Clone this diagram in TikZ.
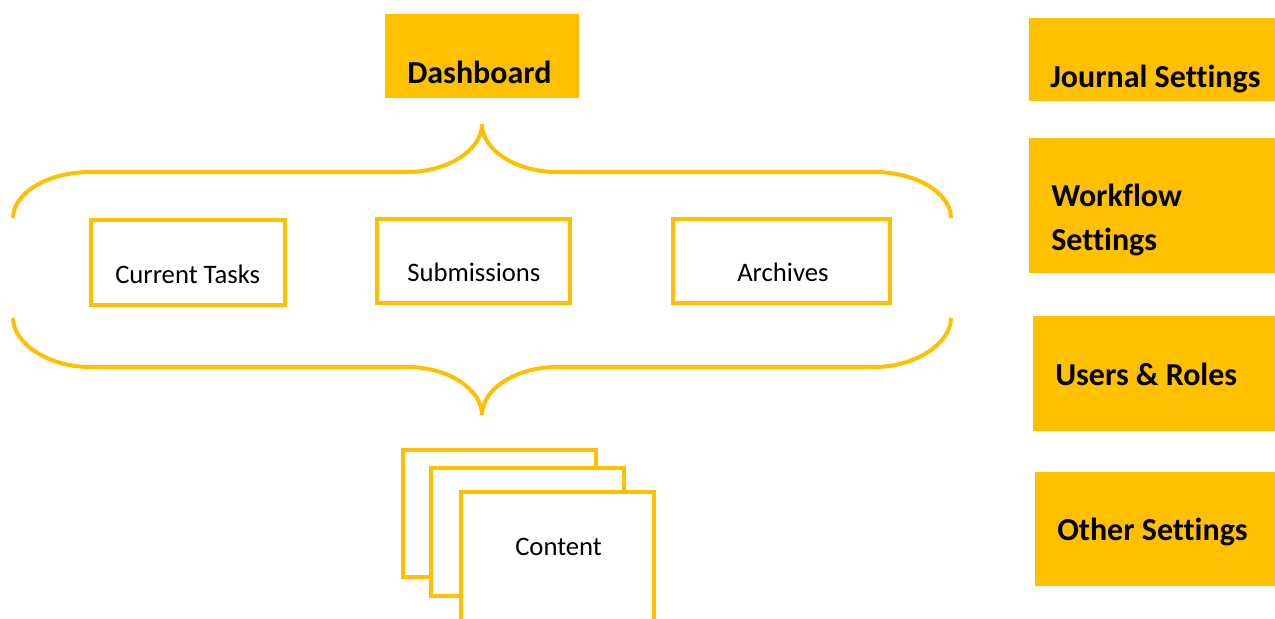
\documentclass[tikz,border=0pt]{standalone}
\usepackage{fontspec}
\setmainfont{Carlito}[Ligatures=NoCommon]
\definecolor{gold}{RGB}{255,192,0}
\tikzset{
  goldfill/.style={fill=gold, draw=none, inner sep=0pt},
  goldline/.style={draw=gold, line width=3pt, fill=white, inner sep=0pt},
  bigtxt/.style={font=\fontsize{24}{33}\selectfont\bfseries, inner sep=0pt, anchor=base west, align=left},
  smalltxt/.style={font=\fontsize{20}{24}\selectfont, inner sep=0pt, anchor=base west},
  brace/.style={draw=gold, line width=3pt}
}
\begin{document}
\begin{tikzpicture}[x=0.75pt, y=-0.75pt]
\useasboundingbox (0,0) rectangle (1275,618);
% filled boxes
\node[goldfill, minimum width=194*0.75pt, minimum height=84*0.75pt] (dash) at (482,56) {};
\node[bigtxt] (dasht) at (407,83) {Dashboard};
\node[goldfill, minimum width=246*0.75pt, minimum height=83*0.75pt] (journal) at (1152,59.5) {};
\node[bigtxt] (journalt) at (1050,87) {Journal Settings};
\node[goldfill, minimum width=246*0.75pt, minimum height=135*0.75pt] (workflow) at (1152,205.5) {};
\node[bigtxt] (workflowt) at (1051,250) {Workflow\\Settings};
\node[goldfill, minimum width=242*0.75pt, minimum height=115*0.75pt] (users) at (1154,373.5) {};
\node[bigtxt] (userst) at (1055,385) {Users \& Roles};
\node[goldfill, minimum width=240*0.75pt, minimum height=114*0.75pt] (other) at (1155,529) {};
\node[bigtxt] (othert) at (1057,540) {Other Settings};
% outlined boxes
\node[goldline, minimum width=194*0.75pt, minimum height=85*0.75pt] (tasks) at (188,262.5) {};
\node[smalltxt] (taskst) at (115,283) {Current Tasks};
\node[goldline, minimum width=193*0.75pt, minimum height=84*0.75pt] (subm) at (473.5,261) {};
\node[smalltxt] (submt) at (407,281) {Submissions};
\node[goldline, minimum width=217*0.75pt, minimum height=84*0.75pt] (arch) at (781.5,261) {};
\node[smalltxt] (archt) at (737,281) {Archives};
% content stack
\begin{scope}
\clip (0,0) rectangle (1275,618);
\node[goldline, minimum width=193*0.75pt, minimum height=127*0.75pt] (c1) at (499.5,513.5) {};
\node[goldline, minimum width=193*0.75pt, minimum height=128*0.75pt] (c2) at (527.5,532) {};
\node[goldline, minimum width=193*0.75pt, minimum height=160*0.75pt] (c3) at (557.5,572) {};
\end{scope}
\node[smalltxt] (contentt) at (515,555) {Content};
% braces
\path[brace] (13,218) .. controls (13,193) and (48,172) .. (90,172) -- (407,172)
  .. controls (448,172) and (482,150) .. (482,124)
  .. controls (482,150) and (516,172) .. (557,172) -- (874,172)
  .. controls (916,172) and (951,193) .. (951,218);
\path[brace] (13,318) .. controls (13,343) and (48,367) .. (90,367) -- (407,367)
  .. controls (448,367) and (482,389) .. (482,415)
  .. controls (482,389) and (516,367) .. (557,367) -- (874,367)
  .. controls (916,367) and (951,343) .. (951,318);
\end{tikzpicture}
\end{document}
